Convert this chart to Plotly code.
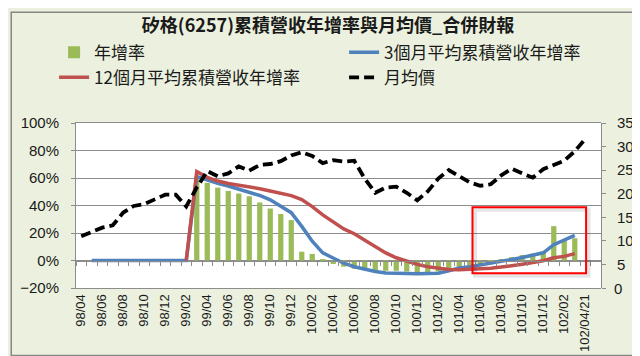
import plotly.graph_objects as go

months = ["98/04", "98/05", "98/06", "98/07", "98/08", "98/09", "98/10", "98/11", "98/12",
          "99/01", "99/02", "99/03", "99/04", "99/05", "99/06", "99/07", "99/08", "99/09",
          "99/10", "99/11", "99/12",
          "100/01", "100/02", "100/03", "100/04", "100/05", "100/06", "100/07", "100/08",
          "100/09", "100/10", "100/11", "100/12",
          "101/01", "101/02", "101/03", "101/04", "101/05", "101/06", "101/07", "101/08",
          "101/09", "101/10", "101/11", "101/12",
          "102/01", "102/02", "102/03", "102/04/21"]

# 年增率 (%)
yoy = [None, None, None, None, None, None, None, None, None, None, None,
       61, 56.5, 53, 50.6, 48.7, 46.7, 42.2, 37.8, 33.8, 29.4,
       6.4, 4.8, 0.9, -2.5, -4.5, -6, -7, -7.5, -7.5, -7.5, -8, -9.5,
       -10, -8, -7, -6, -5, -3, -1, 1, 2.5, 4, 5, 6.5,
       25, 14.3, 16.2, None]

# 3個月平均累積營收年增率 (%)
avg3 = [None, 0, 0, 0, 0, 0, 0, 0, 0, 0, 0,
        61, 58.3, 56.2, 54.2, 51.9, 49.7, 47.3, 44.1, 39.8, 34.8,
        24.8, 14, 5.5, 1.5, -2, -4.5, -6.5, -8, -9, -9.5, -9.5, -9.7,
        -9.7, -9.3, -7.5, -5.5, -4.5, -3.3, -2.1, -0.8, 0.7, 2.2, 3.8, 5.6,
        11.5, 15, 18.3, None]

# 12個月平均累積營收年增率 (%)
avg12 = [None, None, None, None, None, None, None, None, None, None, 0,
         64.7, 60.5, 57.8, 56, 54.8, 53.8, 52.2, 50.5, 48.8, 47.2,
         44.3, 39.2, 33.2, 27.8, 23, 19.5, 15, 10, 5.5, 2, -0.5, -2.8,
         -4.5, -5.8, -6.6, -6.8, -6.5, -6, -5.6, -4.8, -4, -2.8, -1.5, -0.2,
         2, 3, 5, None]

# 月均價
price = [11.0, 12.0, 12.8, 13.3, 16.0, 17.4, 17.8, 18.8, 19.8, 19.8, 17.3,
         21.3, 24.8, 23.7, 24.3, 25.8, 24.9, 26.1, 26.3, 26.9, 28.1,
         28.8, 28.0, 26.5, 27.1, 26.8, 27.0, 23.2, 20.2, 21.3, 21.5, 20.2, 18.6,
         20.5, 23.2, 25.0, 23.6, 22.4, 21.7, 22.0, 23.9, 25.3, 24.3, 23.4, 25.2,
         26.1, 27.0, 29.0, 31.6]

tick_labels = months[::2]
price_ticks = [0, 5, 10, 15, 20, 25, 30, 35]

CJK = "Noto Sans CJK TC"
LAT = "Liberation Sans"
GRID = "#8c8c8c"
TXT = "#1a1a1a"

fig = go.Figure()
fig.add_trace(go.Bar(x=months, y=yoy, name="年增率", width=0.5,
                     marker=dict(color="#9BBB59", line=dict(width=0))))
fig.add_trace(go.Scatter(x=months, y=avg3, name="3個月平均累積營收年增率", mode="lines",
                         line=dict(color="#4F81BD", width=3.5)))
fig.add_trace(go.Scatter(x=months, y=avg12, name="12個月平均累積營收年增率", mode="lines",
                         line=dict(color="#C0504D", width=3.5)))
fig.add_trace(go.Scatter(x=months, y=price, name="月均價", mode="lines",
                         line=dict(color="black", width=3.8, dash="10px,5px"),
                         xaxis="x2", yaxis="y2"))

# plot area in pixels: x 66..593, y 115..285
L, R, T, B = 66, 47, 115, 71
W, H = 640 - L - R, 356 - T - B

def px_x(p):
    return (p - L) / W

def px_y(p):
    return (356 - B - p) / H

# Plotly hides the corner label of the right axis, so the first one is drawn as an annotation
price_ticktext = ["" if v == price_ticks[0] else str(v) for v in price_ticks]

fig.update_layout(
    width=640, height=356,
    margin=dict(l=L, r=R, t=T, b=B, pad=0),
    paper_bgcolor="#EBF1DE",
    plot_bgcolor="white",
    showlegend=True,
    title=dict(text="<b>矽格(6257)累積營收年增率與月均價_合併財報</b>",
               font=dict(family=CJK, size=18, color=TXT),
               x=0.5, xref="container", xanchor="center",
               y=1 - 18 / 356, yref="container", yanchor="middle"),
    legend=dict(orientation="h", x=px_x(44), xanchor="left", y=px_y(24), yanchor="top",
                entrywidth=245, entrywidthmode="pixels",
                font=dict(family=CJK, size=17, color=TXT),
                bgcolor="rgba(0,0,0,0)", itemwidth=30, traceorder="normal"),
    xaxis=dict(type="category", categoryorder="array", categoryarray=months,
               range=[-0.5, 49.5], tickmode="array", tickvals=tick_labels, ticktext=tick_labels,
               tickangle=-90, tickfont=dict(family=LAT, size=13, color=TXT),
               showgrid=False, showline=True, mirror=True, linecolor=GRID, linewidth=1,
               ticks="", zeroline=False),
    yaxis=dict(range=[-20, 100], dtick=20, tick0=0, ticksuffix="%",
               tickfont=dict(family=LAT, size=15, color=TXT),
               showgrid=True, gridcolor=GRID, gridwidth=1, zeroline=False,
               showline=True, linecolor=GRID, ticks="outside", ticklen=4, tickcolor=GRID,
               ticklabelstandoff=9),
    xaxis2=dict(type="category", categoryorder="array", categoryarray=months,
                overlaying="x", anchor="free", position=20 / 120,
                range=[-0.5, 49.5], tickmode="linear", tick0=0, dtick=1,
                tickson="boundaries", showticklabels=False, ticks="outside", ticklen=4,
                tickcolor=GRID, showline=True, linecolor=GRID, linewidth=1,
                showgrid=False, zeroline=False),
    yaxis2=dict(overlaying="y", side="right", anchor="free", position=1.0, range=[0, 35],
                tickmode="array", tickvals=price_ticks, ticktext=price_ticktext,
                tickfont=dict(family=LAT, size=15, color=TXT),
                showgrid=False, zeroline=False, showline=True, linecolor=GRID,
                ticks="outside", ticklen=4, tickcolor=GRID, ticklabelstandoff=8),
)

# bottom of the plot area is where the right axis starts (price 0)
fig.add_annotation(xref="paper", x=1.0, yref="paper", y=0,
                   text=str(price_ticks[0]), showarrow=False,
                   xanchor="left", yanchor="middle", xshift=11,
                   font=dict(family=LAT, size=15, color=TXT))

# highlight box with soft shadow, and outer chart border
fig.add_shape(type="rect", xref="x", yref="y", x0=37.5, x1=48.32, y0=-11.0, y1=36.9,
              line=dict(color="rgba(0,0,0,0.10)", width=4), layer="above")
fig.add_shape(type="rect", xref="x", yref="y", x0=37.26, x1=48.08, y0=-9.2, y1=38.7,
              line=dict(color="#FF0000", width=2), layer="above")
fig.add_shape(type="rect", xref="paper", yref="paper",
              x0=px_x(1), x1=px_x(638.5), y0=px_y(354.5), y1=px_y(1),
              line=dict(color="#868686", width=1.5), layer="above")

fig.write_html("out.html")
